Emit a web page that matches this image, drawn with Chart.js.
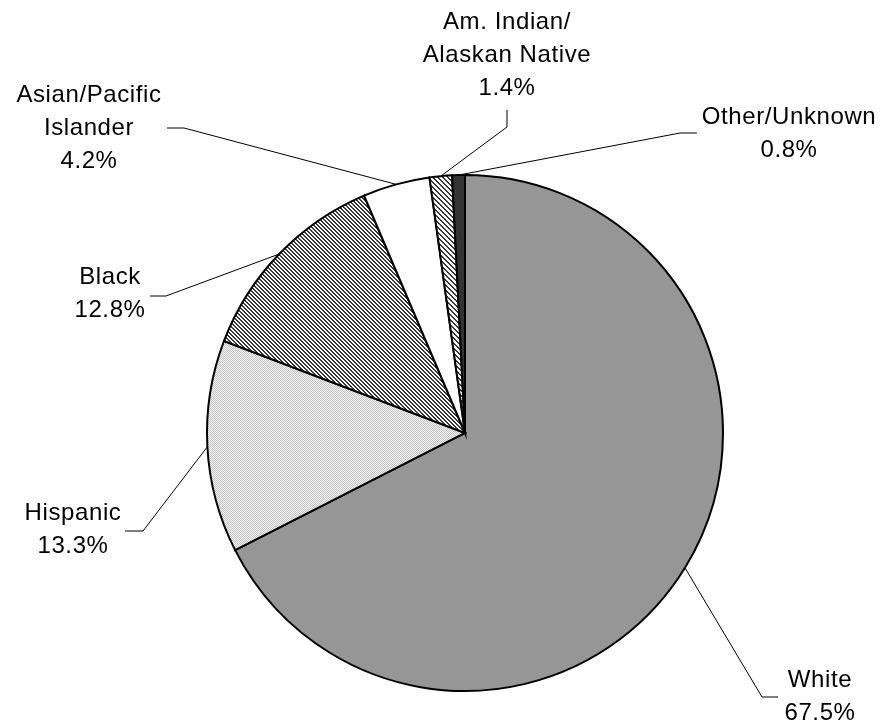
<!DOCTYPE html>
<html>
<head>
<meta charset="utf-8">
<script src="https://cdn.jsdelivr.net/npm/chart.js@4/dist/chart.umd.min.js"></script>
<style>
  html, body { margin: 0; padding: 0; background: #fff; }
  #wrap { width: 883px; height: 727px; }
</style>
</head>
<body>
<div id="wrap"><canvas id="pieChart" width="883" height="727"></canvas></div>
<script>
// data
const categories = ['White', 'Hispanic', 'Black', 'Asian/Pacific Islander', 'Am. Indian/Alaskan Native', 'Other/Unknown'];
const labelLines = [['White'], ['Hispanic'], ['Black'], ['Asian/Pacific', 'Islander'], ['Am. Indian/', 'Alaskan Native'], ['Other/Unknown']];
const shares = [67.5, 13.3, 12.8, 4.2, 1.4, 0.8];

// where each label sits and where its leader line bends (layout only)
const labelLayout = [
  { x: 820, y: 680, elbow: [762, 697], end: [778, 697] },
  { x: 73,  y: 513, elbow: [143, 531], end: [125, 531] },
  { x: 110, y: 277, elbow: [166, 296], end: [150, 296] },
  { x: 89,  y: 95,  elbow: [184, 128], end: [167, 128] },
  { x: 507, y: 22,  elbow: [507, 127], end: [507, 110] },
  { x: 789, y: 117, elbow: [680, 133], end: [697, 133] }
];
const lineHeight = 33;

function makeTile(size, draw) {
  const c = document.createElement('canvas');
  c.width = size; c.height = size;
  const g = c.getContext('2d');
  g.fillStyle = '#fff';
  g.fillRect(0, 0, size, size);
  draw(g, size);
  return document.getElementById('pieChart').getContext('2d').createPattern(c, 'repeat');
}

// fine dotted light grey
const dots = makeTile(2, (g) => {
  g.fillStyle = '#f2f2f2'; g.fillRect(0, 0, 2, 2);
  g.fillStyle = '#c4c4c4'; g.fillRect(0, 0, 1, 1); g.fillRect(1, 1, 1, 1);
});
// narrow diagonal stripes
const stripes = makeTile(4, (g, s) => {
  g.fillStyle = '#3a3a3a';
  for (let y = 0; y < s; y++) { g.fillRect(y % s, y, 1, 1); g.fillRect((y + 1) % s, y, 1, 1); }
});
// wider diagonal stripes
const wideStripes = makeTile(5, (g, s) => {
  g.fillStyle = '#3a3a3a';
  for (let y = 0; y < s; y++) { g.fillRect(y % s, y, 1, 1); g.fillRect((y + 1) % s, y, 1, 1); }
});

const fills = ['#969696', dots, stripes, '#ffffff', wideStripes, '#333333'];

const leaderLabels = {
  id: 'leaderLabels',
  afterDraw(chart) {
    const ctx = chart.ctx;
    const arcs = chart.getDatasetMeta(0).data;
    ctx.save();
    ctx.font = '24px "Liberation Sans", Arial, sans-serif';
    ctx.letterSpacing = '0.6px';
    ctx.fillStyle = '#000';
    ctx.textAlign = 'center';
    ctx.textBaseline = 'middle';
    ctx.strokeStyle = '#000';
    ctx.lineWidth = 1;
    arcs.forEach((arc, i) => {
      const p = arc.getProps(['x', 'y', 'startAngle', 'endAngle', 'outerRadius'], true);
      const mid = (p.startAngle + p.endAngle) / 2;
      const ax = p.x + Math.cos(mid) * p.outerRadius;
      const ay = p.y + Math.sin(mid) * p.outerRadius;
      const lay = labelLayout[i];
      ctx.beginPath();
      ctx.moveTo(ax, ay);
      ctx.lineTo(lay.elbow[0], lay.elbow[1]);
      ctx.lineTo(lay.end[0], lay.end[1]);
      ctx.stroke();
      const lines = labelLines[i].concat([shares[i].toFixed(1) + '%']);
      lines.forEach((t, k) => ctx.fillText(t, lay.x, lay.y + k * lineHeight));
    });
    ctx.restore();
  }
};

new Chart(document.getElementById('pieChart'), {
  type: 'pie',
  data: {
    labels: categories,
    datasets: [{
      data: shares,
      backgroundColor: fills,
      borderColor: '#000',
      borderWidth: 2,
      borderJoinStyle: 'miter'
    }]
  },
  options: {
    responsive: false,
    animation: false,
    layout: { padding: { left: 206, right: 159, top: 174, bottom: 35 } },
    plugins: {
      legend: { display: false },
      tooltip: { enabled: false }
    }
  },
  plugins: [leaderLabels]
});
</script>
</body>
</html>
